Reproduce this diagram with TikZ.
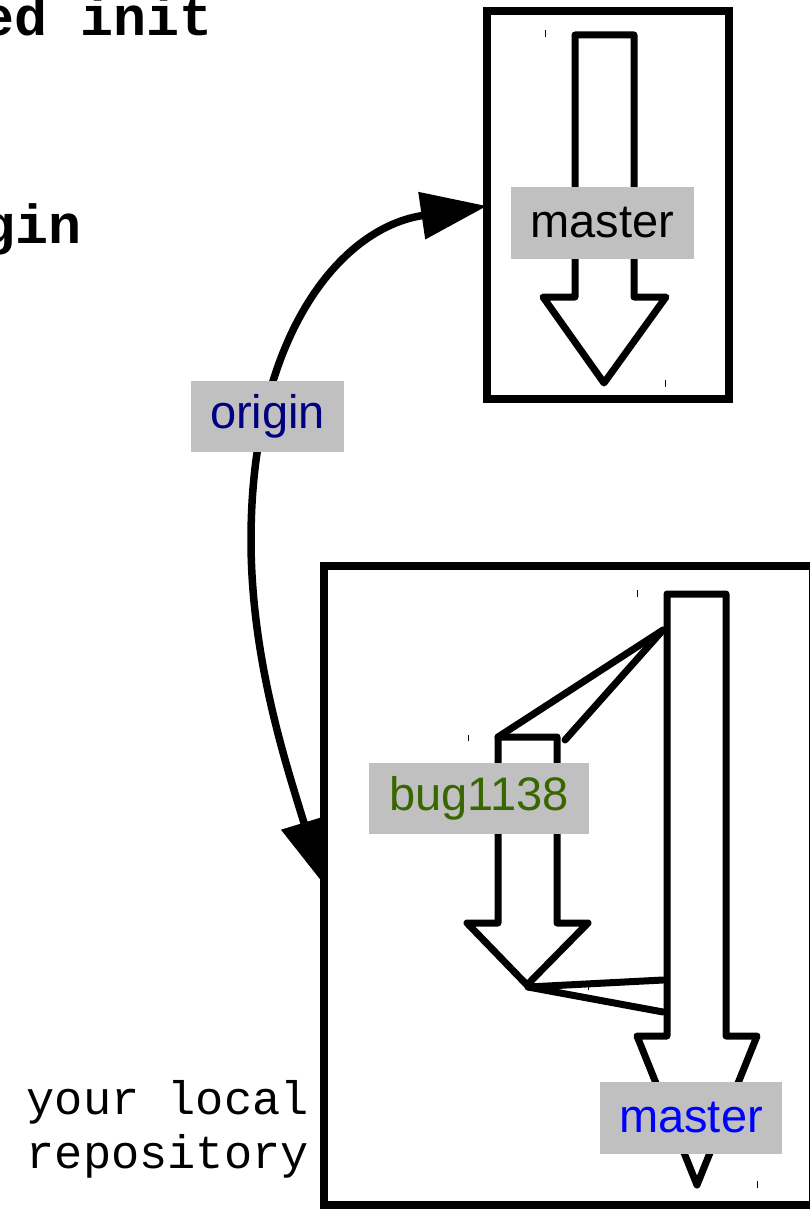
\documentclass[tikz,border=0pt]{standalone}
\usepackage{fontspec}
\setmainfont{Liberation Sans}
\newfontfamily\monofam{Liberation Mono}
\usetikzlibrary{arrows.meta}
\definecolor{lblgrey}{RGB}{192,192,192}
\definecolor{navyc}{RGB}{0,0,128}
\definecolor{bluec}{RGB}{0,0,255}
\definecolor{greenc}{RGB}{56,102,0}
\tikzset{
  frame/.style={draw=black, line width=8pt, line join=miter},
  blockarrow/.style={draw=black, fill=white, line width=7pt, line join=round},
  link/.style={draw=black, line width=7pt, line cap=round},
  tick/.style={draw=black, line width=1pt},
  tag/.style={fill=lblgrey, inner sep=0pt, font=\fontsize{47}{56}\selectfont},
  bigtext/.style={inner sep=0pt, font=\monofam\bfseries\fontsize{55}{62}\selectfont},
  monotext/.style={inner sep=0pt, align=right, font=\monofam\fontsize{47}{54}\selectfont},
}
\begin{document}
\begin{tikzpicture}[x=1pt, y=-1pt]
\useasboundingbox (0,0) rectangle (810,1209);
\clip (0,0) rectangle (810,1209);
% header texts (cropped at the edge, as in the reference)
\node[bigtext, anchor=base east] (hdrA) at (213,36) {ed init};
\node[bigtext, anchor=base east] (hdrB) at (82,243) {gin};
% remote repository box
\draw[frame] (487,11) rectangle (729,399);
\draw[blockarrow] (575,35) -- (634,35) -- (634,297) -- (666,297) -- (604,383) -- (543,297) -- (575,297) -- cycle;
\draw[tick] (545,30) -- (545,37);
\draw[tick] (665,380) -- (665,387);
\node[tag, minimum width=183pt, minimum height=72pt] (rmaster) at (602.5,223) {master};
% local repository box
\draw[frame] (323.5,566) rectangle (812.5,1205);
\draw[blockarrow] (667,594) -- (726,594) -- (726,1036) -- (757,1036) -- (697,1185) -- (637,1036) -- (667,1036) -- cycle;
\draw[blockarrow] (498,737) -- (557,737) -- (557,923) -- (588,923) -- (527,985) -- (467,923) -- (498,923) -- cycle;
\coordinate (fork) at (663,630);
\coordinate (bugTL) at (498,737);
\coordinate (bugTR) at (565,740);
\coordinate (bugTip) at (528,987);
\coordinate (joinA) at (663,980);
\coordinate (joinB) at (663,1012);
\draw[link] (fork) -- (bugTL);
\draw[link] (fork) -- (bugTR);
\draw[link] (bugTip) -- (joinA);
\draw[link] (bugTip) -- (joinB);
\draw[tick] (637,590) -- (637,597);
\draw[tick] (468,735) -- (468,741);
\draw[tick] (588,984) -- (588,990);
\draw[tick] (757,1181) -- (757,1188);
\node[tag, minimum width=220pt, minimum height=71pt, text=greenc] (bug) at (479,798.5) {bug1138};
\node[tag, minimum width=182pt, minimum height=72pt, text=bluec] (lmaster) at (691,1118) {master};
% origin connector
\coordinate (remoteL) at (487,206);
\coordinate (localL) at (322,882);
\coordinate (bend) at (251,540);
\draw[line width=7.5pt, {Triangle[length=62pt,width=46pt]}-{Triangle[length=66pt,width=46pt]}]
  (localL) .. controls (287,767) and (251,660) .. (bend)
           .. controls (251,340) and (338,228) .. (remoteL);
\node[tag, minimum width=153pt, minimum height=71pt, text=navyc] (origin) at (267.5,416.5) {origin};
\node[monotext, anchor=base east] (local) at (309,1168) {your local\\repository};
\end{tikzpicture}
\end{document}
